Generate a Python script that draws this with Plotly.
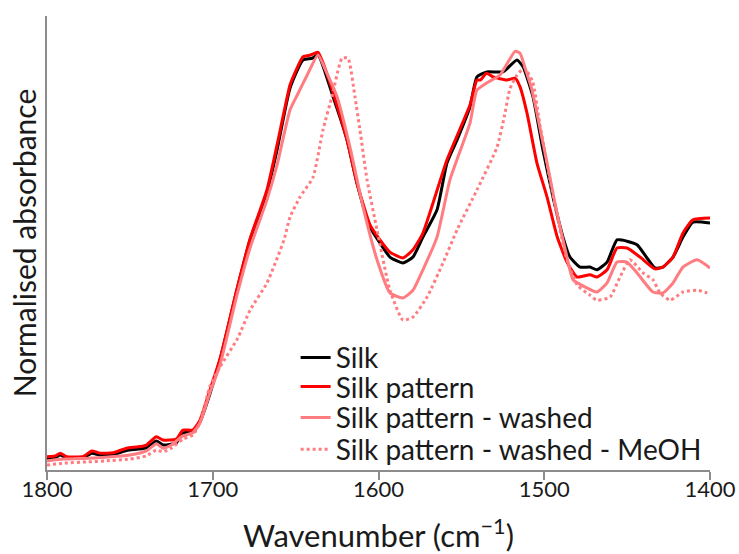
import plotly.graph_objects as go

# FTIR amide I / II region, normalised absorbance
silk_wn = [1800, 1795, 1792, 1788, 1778, 1773, 1768, 1760, 1752, 1745, 1740, 1734, 1730, 1722,
           1718, 1712, 1707.7, 1701.7, 1695.6, 1685.4, 1677.5, 1667.3, 1661.2, 1653.4, 1645.6,
           1640, 1636.5, 1627.4, 1619, 1613, 1605.1, 1599.1, 1593.1, 1585.2, 1579.2, 1573.2,
           1564.7, 1558.7, 1552.6, 1544.8, 1540.6, 1534.5, 1524.9, 1516.4, 1512.8, 1506.8,
           1500.8, 1494.7, 1488.7, 1484.5, 1478.4, 1472.4, 1468.2, 1462.1, 1456.1, 1450.1,
           1444, 1438, 1433.2, 1428.4, 1422.3, 1416.3, 1410.3, 1400]
silk_abs = [0.026, 0.028, 0.033, 0.026, 0.027, 0.037, 0.033, 0.034, 0.043, 0.046, 0.049, 0.064,
            0.055, 0.060, 0.082, 0.083, 0.106, 0.168, 0.243, 0.396, 0.507, 0.610, 0.705, 0.841,
            0.903, 0.907, 0.914, 0.822, 0.727, 0.632, 0.535, 0.500, 0.469, 0.456, 0.469, 0.513,
            0.573, 0.676, 0.727, 0.800, 0.866, 0.877, 0.877, 0.903, 0.888, 0.822, 0.705, 0.601,
            0.513, 0.469, 0.447, 0.447, 0.441, 0.458, 0.507, 0.504, 0.496, 0.467, 0.445, 0.447,
            0.469, 0.513, 0.546, 0.544]

pattern_wn = [1800, 1795, 1792, 1788, 1778, 1773, 1768, 1760, 1752, 1745, 1740, 1734, 1730, 1722,
              1718, 1712, 1707.7, 1701.7, 1695.6, 1685.4, 1677.5, 1667.3, 1661.2, 1653.4, 1651,
              1645.6, 1641, 1636.5, 1633.5, 1627.4, 1619, 1613, 1605.1, 1599.1, 1593.1, 1585.2,
              1579.2, 1573.2, 1558.7, 1544.8, 1540.6, 1538.5, 1534.8, 1530.9, 1522.5, 1517.6,
              1514.6, 1510.4, 1504.4, 1498.3, 1492.3, 1486.3, 1480.2, 1472.4, 1468.2, 1462.1,
              1456.1, 1450.1, 1442.2, 1433.2, 1428.4, 1422.3, 1416.3, 1410.3, 1400]
pattern_abs = [0.029, 0.031, 0.037, 0.029, 0.030, 0.042, 0.037, 0.038, 0.048, 0.051, 0.055, 0.073,
               0.066, 0.068, 0.088, 0.088, 0.110, 0.176, 0.245, 0.399, 0.509, 0.617, 0.716, 0.848,
               0.870, 0.910, 0.914, 0.920, 0.897, 0.831, 0.727, 0.632, 0.540, 0.507, 0.480, 0.467,
               0.485, 0.522, 0.683, 0.804, 0.859, 0.859, 0.874, 0.866, 0.859, 0.863, 0.844, 0.786,
               0.676, 0.601, 0.515, 0.458, 0.425, 0.430, 0.425, 0.441, 0.489, 0.489, 0.469, 0.443,
               0.447, 0.469, 0.522, 0.551, 0.555]

washed_wn = [1800, 1790, 1775, 1765, 1750, 1740, 1734, 1730, 1725, 1718, 1712, 1707.7, 1701.7,
             1695.6, 1685.4, 1677.5, 1667.3, 1661.2, 1653.4, 1649, 1643, 1636.5, 1632, 1625,
             1617.2, 1609.3, 1600.9, 1593.1, 1585.2, 1579.2, 1573.2, 1564.7, 1556.9, 1544.8,
             1540.6, 1534.5, 1526.7, 1517.6, 1514.6, 1511.6, 1507.7, 1504.4, 1498.3, 1492.3,
             1486.3, 1482.6, 1474.2, 1468.2, 1462.1, 1456.1, 1450.1, 1444, 1434.4, 1428.4, 1422.3,
             1416.3, 1407.8, 1400]
washed_abs = [0.020, 0.024, 0.026, 0.028, 0.033, 0.042, 0.058, 0.048, 0.055, 0.075, 0.082, 0.104,
              0.170, 0.232, 0.385, 0.489, 0.595, 0.672, 0.793, 0.826, 0.870, 0.914, 0.881, 0.822,
              0.711, 0.579, 0.463, 0.390, 0.379, 0.396, 0.441, 0.513, 0.639, 0.764, 0.837, 0.853,
              0.870, 0.922, 0.918, 0.886, 0.841, 0.786, 0.676, 0.566, 0.469, 0.419, 0.401, 0.392,
              0.412, 0.458, 0.458, 0.434, 0.392, 0.390, 0.412, 0.447, 0.463, 0.445]

meoh_wn = [1800, 1790, 1775, 1765, 1750, 1740, 1734, 1730, 1725, 1718, 1712, 1707.7, 1701.7,
           1695.6, 1685, 1677.5, 1667.3, 1657, 1653.4, 1647.4, 1639.5, 1633.5, 1628.1, 1622,
           1618.4, 1614.2, 1611.2, 1606.9, 1600.9, 1593.1, 1585.2, 1579.2, 1570.7, 1561.1,
           1552.6, 1540.6, 1528.5, 1524, 1520.7, 1516.4, 1512, 1507, 1502.6, 1496.5, 1490.5,
           1486.3, 1480, 1472.4, 1468.2, 1460.3, 1454.3, 1448.3, 1440.4, 1434.4, 1430.2, 1424.1,
           1416.3, 1407.8, 1401.8, 1400]
meoh_abs = [0.011, 0.015, 0.018, 0.020, 0.024, 0.031, 0.044, 0.040, 0.048, 0.068, 0.077, 0.104,
            0.185, 0.227, 0.290, 0.352, 0.412, 0.507, 0.557, 0.601, 0.645, 0.749, 0.822, 0.907,
            0.907, 0.822, 0.749, 0.639, 0.529, 0.396, 0.330, 0.337, 0.381, 0.456, 0.529, 0.617,
            0.711, 0.780, 0.840, 0.870, 0.885, 0.855, 0.760, 0.639, 0.529, 0.463, 0.407, 0.385,
            0.374, 0.381, 0.425, 0.463, 0.434, 0.419, 0.390, 0.374, 0.392, 0.396, 0.390, 0.388]

series = [
    ("Silk", silk_wn, silk_abs, "#000000", "solid"),
    ("Silk pattern", pattern_wn, pattern_abs, "#ff0000", "solid"),
    ("Silk pattern - washed", washed_wn, washed_abs, "#ff7c80", "solid"),
    ("Silk pattern - washed - MeOH", meoh_wn, meoh_abs, "#ff7c80", "3px,3px"),
]

FONT = "Lato"
TEXT = "#1a1a1a"
AXIS_GREY = "#8c8c8c"

# one legend box per entry so the row spacing can be set freely
legend_ids = ["legend", "legend2", "legend3", "legend4"]
legend_rows = [0.247, 0.183, 0.115, 0.045]

fig = go.Figure()
for (name, wn, ab, color, dash), lid in zip(series, legend_ids):
    fig.add_trace(go.Scatter(
        x=wn, y=ab, name=name, mode="lines", legend=lid,
        line=dict(color=color, width=3, dash=dash, shape="spline", smoothing=0.5),
    ))

legend_style = {}
for lid, ypos in zip(legend_ids, legend_rows):
    legend_style[lid] = dict(
        x=0.375, y=ypos, xanchor="left", yanchor="middle",
        bgcolor="rgba(255,255,255,0)", borderwidth=0,
        font=dict(family=FONT, size=28, color=TEXT),
    )

fig.update_layout(
    width=739, height=554,
    margin=dict(l=47, r=29, t=16, b=84, autoexpand=False),
    paper_bgcolor="white", plot_bgcolor="white",
    font=dict(family=FONT, color=TEXT),
    showlegend=True,
    xaxis=dict(
        range=[1800, 1400], automargin=False,
        tickvals=[1800, 1700, 1600, 1500, 1400],
        ticktext=["1800", "1700", "1600", "1500", "1400"],
        ticks="outside", ticklen=8, tickwidth=1.5, tickcolor=AXIS_GREY,
        ticklabelstandoff=-9,
        showline=True, linecolor=AXIS_GREY, linewidth=1.5,
        showgrid=False, zeroline=False,
        tickfont=dict(family=FONT, size=22, color=TEXT),
        title=dict(text="Wavenumber (cm<sup>−1</sup>)", standoff=29,
                   font=dict(family=FONT, size=31, color=TEXT)),
    ),
    yaxis=dict(
        range=[0, 1], automargin=False,
        showticklabels=False, ticks="",
        showline=True, linecolor=AXIS_GREY, linewidth=1.5,
        showgrid=False, zeroline=False,
        title=dict(text="Normalised absorbance", standoff=0,
                   font=dict(family=FONT, size=30, color=TEXT)),
    ),
    **legend_style,
)

fig.write_html("out.html")
